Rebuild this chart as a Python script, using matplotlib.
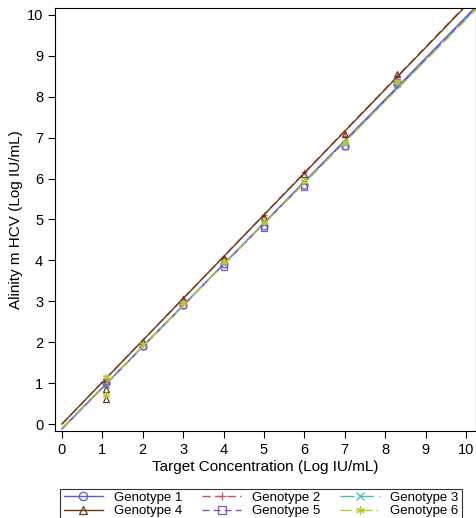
import matplotlib.pyplot as plt
import numpy as np

plt.rcParams['font.family'] = ['Liberation Sans', 'DejaVu Sans']

# measured points per genotype (target vs. Alinity m result)
g1_x = [1.1, 2.0, 3.0, 4.0, 5.0, 6.0, 7.0, 8.3]
g1_y = [1.0, 1.9, 2.9, 3.9, 4.85, 5.85, 6.8, 8.3]
g2_x = [1.1, 2.0, 3.0, 4.0, 5.0, 6.0, 7.0, 8.3]
g2_y = [1.05, 2.0, 3.05, 4.05, 5.1, 6.15, 7.05, 8.5]
g3_x = [1.1, 2.0, 3.0, 4.0, 5.0, 6.0, 7.0, 8.3]
g3_y = [0.95, 1.95, 2.95, 3.9, 4.9, 5.9, 6.85, 8.3]
g4_x = [1.1, 1.1, 1.1, 2.0, 3.0, 4.0, 5.0, 6.0, 7.0, 8.3]
g4_y = [0.6, 0.85, 1.1, 2.0, 3.05, 4.05, 5.05, 6.1, 7.1, 8.55]
g5_x = [1.1, 2.0, 3.0, 4.0, 5.0, 6.0, 7.0, 8.3]
g5_y = [1.05, 1.9, 2.9, 3.85, 4.8, 5.8, 6.8, 8.35]
g6_x = [1.1, 1.1, 2.0, 3.0, 4.0, 5.0, 6.0, 7.0, 8.3]
g6_y = [0.7, 1.15, 1.95, 2.95, 3.95, 4.95, 5.95, 6.9, 8.35]

# regression lines (intercept, slope)
fit_intercept = [-0.12, 0.0, -0.1, 0.0, -0.12, -0.1]
fit_slope = [1.007, 1.024, 1.0, 1.022, 1.004, 0.998]

labels = ['Genotype 1', 'Genotype 2', 'Genotype 3', 'Genotype 4', 'Genotype 5', 'Genotype 6']
colors = ['#5a5ad2', '#d2505a', '#3cbfae', '#6b3a12', '#8a4fd0', '#b8c830']
markers = ['o', '+', 'x', '^', 's', (6, 2, 0)]
styles = ['-', (0, (6, 3)), (0, (10, 4)), '-', (0, (5, 3)), (0, (8, 3, 1, 3))]

xs = [g1_x, g2_x, g3_x, g4_x, g5_x, g6_x]
ys = [g1_y, g2_y, g3_y, g4_y, g5_y, g6_y]

fig = plt.figure(figsize=(4.76, 5.18), dpi=100)
ax = fig.add_axes([0.1155, 0.168, 0.8845, 0.8166])

line_x = np.array([0.0, 10.6])
handles = []
for i in range(6):
    ax.plot(line_x, fit_intercept[i] + fit_slope[i] * line_x, color=colors[i],
            linestyle=styles[i], linewidth=1.0)
    ax.plot(xs[i], ys[i], linestyle='none', marker=markers[i], markersize=5,
            markerfacecolor='none', markeredgecolor=colors[i], markeredgewidth=0.9)
    h, = ax.plot([], [], color=colors[i], linestyle=styles[i], linewidth=1.0,
                 marker=markers[i], markersize=6, markerfacecolor='none',
                 markeredgewidth=0.9)
    handles.append(h)

ax.set_xlim(-0.173, 10.25)
ax.set_ylim(-0.17, 10.17)
ax.set_xticks(range(0, 11))
ax.set_yticks(range(0, 11))
ax.tick_params(direction='out', length=5, width=0.8, labelsize=10.5)
for s in ax.spines.values():
    s.set_linewidth(0.8)
ax.set_xlabel('Target Concentration (Log IU/mL)', fontsize=11, labelpad=2)
ax.set_ylabel('Alinity m HCV (Log IU/mL)', fontsize=11, labelpad=3)

order = [0, 3, 1, 4, 2, 5]
leg = fig.legend([handles[k] for k in order], [labels[k] for k in order],
                 loc='upper center', bbox_to_anchor=(261 / 476, 1 - 482 / 518),
                 ncol=3, fontsize=9.5, frameon=True, fancybox=False,
                 handlelength=3.0, columnspacing=1.5, borderpad=0.25,
                 labelspacing=0.12, handletextpad=0.8, handleheight=0.6)
leg.get_frame().set_edgecolor('black')
leg.get_frame().set_linewidth(0.8)

fig.savefig('out.png', dpi=100)
